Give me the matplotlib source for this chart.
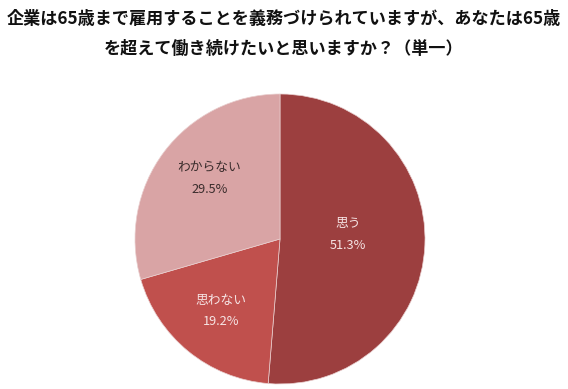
import numpy as np
import matplotlib
matplotlib.use("Agg")
import matplotlib.pyplot as plt

plt.rcParams["font.family"] = ["Noto Sans CJK JP", "DejaVu Sans"]

TITLE = "企業は65歳まで雇用することを義務づけられていますが、あなたは65歳\nを超えて働き続けたいと思いますか？（単一）"
labels = ["思う", "思わない", "わからない"]
shares = [51.3, 19.2, 29.5]
colors = ["#9C3F3F", "#C0504D", "#D9A4A5"]
text_colors = ["#F6E4E4", "#F6E4E4", "#3A2C2C"]
label_dist = [0.47, 0.64, 0.61]
label_nudge = [0.05, 0.0, 0.05]

fig = plt.figure(figsize=(5.68, 3.89), dpi=100)
W, H = 568, 389
cx, cy, r = 280, 389 - 239, 145
half = 150
ax = fig.add_axes([(cx - half) / W, (cy - half) / H, 2 * half / W, 2 * half / H])
wedges, _ = ax.pie(shares, colors=colors, startangle=90, counterclock=False,
                   radius=1, wedgeprops=dict(edgecolor="#E9CFCF", linewidth=0.5))
lim = half / r
ax.set_xlim(-lim, lim)
ax.set_ylim(-lim, lim)
ax.set_aspect("equal")
ax.axis("off")

for w, lab, val, tc, d, nud in zip(wedges, labels, shares, text_colors, label_dist, label_nudge):
    ang = np.deg2rad((w.theta1 + w.theta2) / 2)
    x, y = d * np.cos(ang), d * np.sin(ang) + nud
    ax.text(x, y, f"{lab}\n{val:.1f}%", ha="center", va="center", fontsize=9.2,
            color=tc, linespacing=1.85)

fig.text(0.5, 1 - 34 / H, TITLE, ha="center", va="center", fontsize=12.3,
         fontweight="bold", color="#111111", linespacing=1.8)

fig.savefig("out.png", dpi=100, facecolor="white")
